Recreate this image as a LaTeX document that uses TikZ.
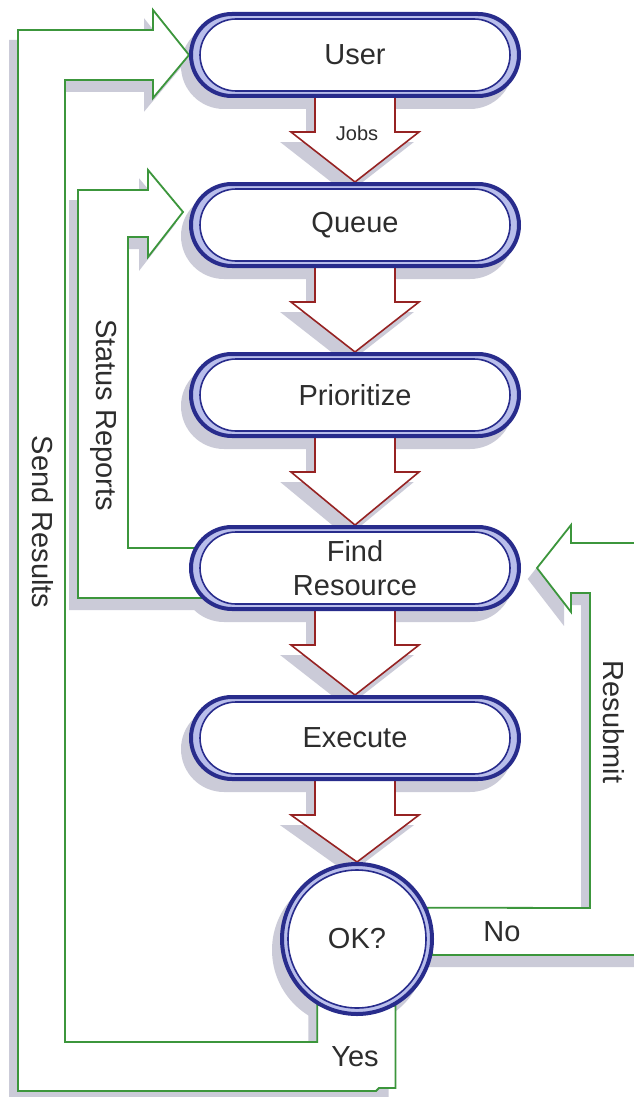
\documentclass[tikz,border=0pt]{standalone}
\usepackage{fontspec}
\setmainfont{Liberation Sans}
\usetikzlibrary{calc}
\definecolor{navyc}{RGB}{40,44,140}
\definecolor{lavc}{RGB}{185,190,235}
\definecolor{greenc}{RGB}{60,150,60}
\definecolor{redc}{RGB}{150,35,35}
\definecolor{shadowc}{RGB}{203,203,216}
\definecolor{textc}{RGB}{45,45,45}
\pgfdeclarelayer{shadow}
\pgfdeclarelayer{bg}
\pgfsetlayers{shadow,bg,main}
\tikzset{
  pill/.style={draw=navyc, line width=4pt, fill=lavc, rounded corners=41pt,
    minimum width=328pt, minimum height=82pt, inner sep=0pt, text=textc,
    font=\fontsize{29}{34}\selectfont, align=center,
    path picture={\draw[navyc, line width=1.6pt, fill=white, rounded corners=36pt]
      ($(path picture bounding box.south west)+(9,-5)$) rectangle
      ($(path picture bounding box.north east)+(-9,5)$);}},
  okc/.style={circle, draw=navyc, line width=4pt, fill=lavc, minimum size=150pt,
    inner sep=0pt, text=textc, font=\fontsize{29}{34}\selectfont,
    path picture={\draw[navyc, line width=1.6pt, fill=white]
      (path picture bounding box.center) circle (69);}},
  lbl/.style={inner sep=0pt, text=textc, font=\fontsize{29}{34}\selectfont},
  band/.style={draw=greenc, line width=1.8pt, fill=white},
  redarrow/.style={draw=redc, line width=1.6pt, fill=white},
  shade/.style={fill=shadowc, draw=shadowc, line width=2pt}
}
\begin{document}
\begin{tikzpicture}[x=1pt, y=-1pt, line join=miter]
\useasboundingbox (0,0) rectangle (634,1097);
% nodes
\node[pill] (user)  at (355,55)  {User};
\node[pill] (queue) at (355,225) {Queue};
\node[pill] (prio)  at (355,395) {Prioritize};
\node[pill] (find)  at (355,568) {Find\\Resource};
\node[pill] (exec)  at (355,738) {Execute};
\node[okc]  (ok)    at (357,939) {OK?};
% labels
\node[lbl] (jobs) at (357,133) {\fontsize{20}{24}\selectfont Jobs};
\node[lbl, rotate=-90] (sendlbl) at (43,522) {Send Results};
\node[lbl, rotate=-90] (statlbl) at (104,415) {Status Reports};
\node[lbl, rotate=-90] (reslbl) at (614,722) {Resubmit};
\node[lbl] (nolbl) at (502,932) {No};
\node[lbl] (yeslbl) at (355,1057) {Yes};
% free ends
\coordinate (r1) at (650,543);
\coordinate (r2) at (650,955);
% connector outlines
\def\sendp{(ok.-121) -- (ok.-121 |- 0,1042) -- (65,1042) -- (65,80) -- (153,80) -- (153,98) -- (user.west) -- (153,10) -- (153,30) -- (18,30) -- (18,1091) -- (376,1091) -- (379,1088) -- (ok.-60 |- 0,1088) -- (ok.-60) -- cycle}
\def\statp{($(find.west)+(20,-20)$) -- (128,548) -- (128,237) -- (148,237) -- (148,257) -- ($(queue.west)+(-6,-13)$) -- (148,170) -- (148,190) -- (78,190) -- (78,598) -- ($(find.west)+(20,30)$) -- cycle}
\def\resp{(ok.24) -- (590,908) -- (590,593) -- (571,593) -- (571,612) -- ($(find.east)+(16,0)$) -- (571,525) -- (571,543) -- (r1) -- (r2) -- (ok.-12) -- cycle}
% shadows
\begin{pgfonlayer}{shadow}
  \fill[white] (0,0) rectangle (634,1097);
  \clip (0,0) rectangle (634,1097);
  \begin{scope}[transform canvas={shift={(-8,11)}}]
    \filldraw[shade] \sendp;
    \filldraw[shade] \statp;
    \filldraw[shade] \resp;
    \foreach \a/\b in {user/queue,queue/prio,prio/find,find/exec,exec/ok}{
      \filldraw[shade] ($(\a.south)+(-40,-10)$) -- ($(\a.south)+(-40,34)$) -- ($(\a.south)+(-64,34)$) -- (\b.north) -- ($(\a.south)+(64,34)$) -- ($(\a.south)+(40,34)$) -- ($(\a.south)+(40,-10)$) -- cycle;
    }
    \foreach \n in {user,queue,prio,find,exec}{
      \fill[shadowc, rounded corners=43pt] (\n.south west) rectangle (\n.north east);
    }
    \fill[shadowc] (ok.center) circle (77);
  \end{scope}
\end{pgfonlayer}
% connectors
\begin{pgfonlayer}{bg}
  \clip (0,0) rectangle (634,1097);
  \filldraw[band] \sendp;
  \filldraw[band] \statp;
  \filldraw[band] \resp;
  \foreach \a/\b in {user/queue,queue/prio,prio/find,find/exec,exec/ok}{
    \filldraw[redarrow] ($(\a.south)+(-40,-10)$) -- ($(\a.south)+(-40,34)$) -- ($(\a.south)+(-64,34)$) -- (\b.north) -- ($(\a.south)+(64,34)$) -- ($(\a.south)+(40,34)$) -- ($(\a.south)+(40,-10)$) -- cycle;
  }
\end{pgfonlayer}
\end{tikzpicture}
\end{document}
